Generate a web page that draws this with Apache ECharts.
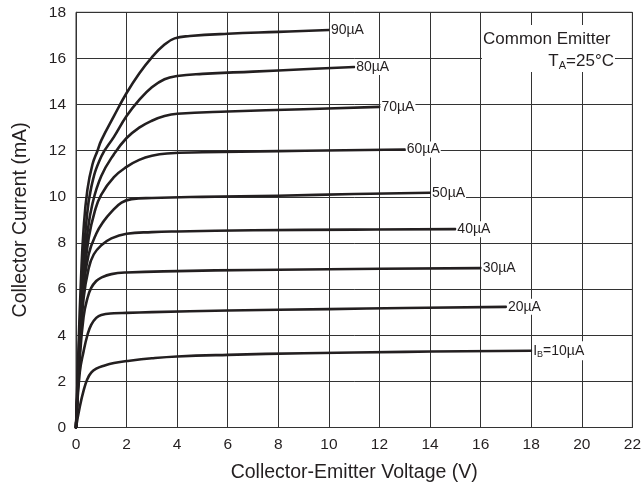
<!DOCTYPE html>
<html>
<head>
<meta charset="utf-8">
<script src="https://cdn.jsdelivr.net/npm/echarts@6/dist/echarts.min.js"></script>
<style>
html,body{margin:0;padding:0;background:#fff;}
#c{width:644px;height:489px;}
</style>
</head>
<body>
<div id="c"></div>
<script>
// Collector-emitter voltage (V), collector current (mA) pairs per base current
const ib10 = [[0,0],[0.15,0.9],[0.3,1.6],[0.45,2.1],[0.6,2.38],[0.8,2.55],[1.1,2.68],[1.5,2.8],[2.0,2.88],[3.0,3.0],[4.0,3.08],[6,3.15],[9,3.22],[13,3.28],[18,3.33]];
const ib20 = [[0,0],[0.15,2.4],[0.3,3.3],[0.45,4.0],[0.6,4.45],[0.8,4.75],[1.0,4.88],[1.5,4.95],[2.0,4.97],[3,5.0],[6,5.07],[10,5.13],[13,5.18],[17,5.23]];
const ib30 = [[0,0],[0.15,3.0],[0.3,4.8],[0.45,5.6],[0.6,6.05],[0.8,6.35],[1.0,6.5],[1.4,6.65],[2.0,6.72],[4,6.78],[7,6.83],[11,6.87],[16,6.91]];
const ib40 = [[0,0],[0.15,3.3],[0.3,5.6],[0.5,6.9],[0.7,7.5],[1.0,7.9],[1.4,8.2],[2.0,8.4],[3,8.47],[4,8.5],[7,8.55],[11,8.58],[15,8.6]];
const ib50 = [[0,0],[0.15,3.5],[0.3,6.0],[0.5,7.5],[0.8,8.4],[1.1,8.95],[1.4,9.35],[1.8,9.75],[2.2,9.9],[3.0,9.95],[5,10.0],[8,10.05],[11,10.12],[14,10.18]];
const ib60 = [[0,0],[0.15,3.6],[0.3,6.3],[0.5,8.2],[0.75,9.4],[1.0,10.1],[1.5,10.85],[2.0,11.3],[2.5,11.6],[3.0,11.78],[3.6,11.88],[5,11.93],[8,11.98],[13,12.05]];
const ib70 = [[0,0],[0.15,3.8],[0.3,6.6],[0.45,8.4],[0.65,9.7],[1.0,10.9],[1.5,11.85],[2.0,12.55],[2.5,13.0],[3.0,13.3],[3.5,13.5],[4.0,13.6],[6,13.7],[9,13.8],[12,13.9]];
const ib80 = [[0,0],[0.12,3.5],[0.25,6.5],[0.4,8.8],[0.6,10.4],[1.0,11.75],[1.5,12.6],[2.0,13.5],[2.5,14.2],[3.0,14.75],[3.5,15.1],[4.0,15.24],[5,15.33],[7,15.43],[9,15.53],[11,15.63]];
const ib90 = [[0,0],[0.1,3.5],[0.2,6.5],[0.3,8.6],[0.45,10.3],[0.65,11.4],[0.85,12.0],[1.0,12.45],[1.5,13.5],[2.0,14.5],[2.5,15.35],[3.0,16.05],[3.5,16.6],[3.9,16.87],[4.5,16.97],[6,17.07],[8,17.15],[10,17.23]];
const curves = [ib10, ib20, ib30, ib40, ib50, ib60, ib70, ib80, ib90];
const curveLabels = ['{n|I}{s|B}{n|=10µA}', '20µA', '30µA', '40µA', '50µA', '60µA', '70µA', '80µA', '90µA'];
const xTicks = [0, 2, 4, 6, 8, 10, 12, 14, 16, 18, 20, 22];
const yTicks = [0, 2, 4, 6, 8, 10, 12, 14, 16, 18];
const xTitle = 'Collector-Emitter Voltage (V)';
const yTitle = 'Collector Current (mA)';

const FONT = 'Liberation Sans, Arial, Helvetica, sans-serif';
const INK = '#231f20';
const GRID = '#333333';

const chart = echarts.init(document.getElementById('c'), null, {renderer: 'canvas'});

const series = curves.map((d, i) => ({
  type: 'line',
  data: d,
  smooth: 0.45,
  showSymbol: false,
  symbol: 'none',
  silent: true,
  animation: false,
  lineStyle: {color: INK, width: 2.6, cap: 'round', join: 'round'},
  endLabel: {
    show: true,
    formatter: curveLabels[i],
    distance: 1,
    color: INK,
    fontFamily: FONT,
    fontSize: 14,
    backgroundColor: '#fff',
    padding: [1, 1, 1, 1],
    rich: {
      n: {fontFamily: FONT, fontSize: 14, color: INK},
      s: {fontFamily: FONT, fontSize: 9, color: INK, padding: [8, 0, 0, 0]}
    }
  },
  z: 3
}));

chart.setOption({
  animation: false,
  backgroundColor: '#fff',
  grid: {left: 76, right: 10.5, top: 12.3, bottom: 61.5, show: true, borderColor: GRID, borderWidth: 1, backgroundColor: 'transparent'},
  xAxis: {
    type: 'value', min: xTicks[0], max: xTicks[xTicks.length - 1], interval: 2,
    name: xTitle, nameLocation: 'middle', nameGap: 35,
    nameTextStyle: {fontFamily: FONT, fontSize: 19.5, color: INK},
    axisLine: {show: true, lineStyle: {color: GRID, width: 1}},
    axisTick: {show: false},
    axisLabel: {fontFamily: FONT, fontSize: 15.5, color: INK, margin: 9},
    splitLine: {show: true, lineStyle: {color: GRID, width: 1}}
  },
  yAxis: {
    type: 'value', min: yTicks[0], max: yTicks[yTicks.length - 1], interval: 2,
    name: yTitle, nameLocation: 'middle', nameGap: 45, nameRotate: 90,
    nameTextStyle: {fontFamily: FONT, fontSize: 19.5, color: INK},
    axisLine: {show: true, lineStyle: {color: GRID, width: 1}},
    axisTick: {show: false},
    axisLabel: {fontFamily: FONT, fontSize: 15.5, color: INK, margin: 10},
    splitLine: {show: true, lineStyle: {color: GRID, width: 1}}
  },
  graphic: [
    {type: 'rect', shape: {x: 482, y: 25, width: 133, height: 47}, style: {fill: '#fff'}, z: 10},
    {type: 'text', x: 483, y: 39, style: {text: 'Common Emitter', fontFamily: FONT, fontSize: 17, fill: INK, align: 'left', verticalAlign: 'middle'}, z: 11},
    {type: 'text', x: 614, y: 61, style: {
      text: '{n|T}{s|A}{n|=25°C}', align: 'right', verticalAlign: 'middle', fill: INK,
      rich: {
        n: {fontFamily: FONT, fontSize: 17, fill: INK},
        s: {fontFamily: FONT, fontSize: 11, fill: INK, padding: [9, 0, 0, 0]}
      }
    }, z: 11}
  ],
  series: series
});
</script>
</body>
</html>
